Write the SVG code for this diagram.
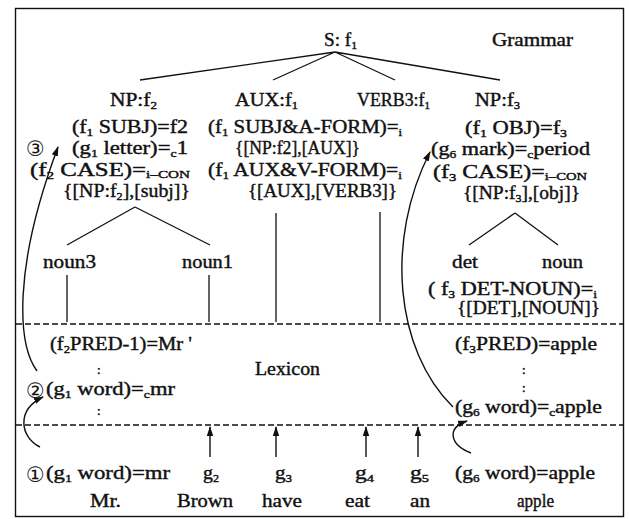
<svg xmlns="http://www.w3.org/2000/svg" width="629" height="519" viewBox="0 0 629 519">
<style>
.t{font-family:"Liberation Serif","Times New Roman",serif;font-size:18px;fill:#111;stroke:#111;stroke-width:0.4}
.k{font-family:"Liberation Serif","Times New Roman",serif;font-size:13px;fill:#111;stroke:#111;stroke-width:0.5}
.sb{font-size:11px}
.ss{font-size:11px}
.c{font-family:"DejaVu Sans","Noto Sans",sans-serif;font-size:21px;fill:#111}
.ln{stroke:#111;stroke-width:1.3;fill:none}
.ds{stroke:#111;stroke-width:1.3;stroke-dasharray:6 3;fill:none}
.ar{stroke:#111;stroke-width:1.4;fill:none;marker-end:url(#ah)}
</style>
<defs>
<marker id="ah" viewBox="0 0 10 10" refX="9" refY="5" markerWidth="10" markerHeight="10" orient="auto" markerUnits="userSpaceOnUse">
<path d="M0,1.8 L10,5 L0,8.2 z" fill="#111"/>
</marker>
</defs>
<rect x="15.5" y="8.5" width="608" height="508" fill="#fff" stroke="#111" stroke-width="1.4"/>

<g id="connectors">
<path class="ln" d="M335,52 L140,80 M335,52 L273,80 M335,52 L395,80 M335,52 L500,80"/>
<path class="ln" d="M135,207 L67,245 M135,207 L210,245"/>
<path class="ln" d="M515,213 L469,245 M515,213 L558,245"/>
<path class="ln" d="M67,275 L67,322 M209,275 L209,322 M276,213 L276,322 M380,212 L380,322"/>
<path class="ds" d="M16,324 L623,324"/>
<path class="ds" d="M16,425 L623,425"/>
<path class="ar" d="M210,457 L210,427"/>
<path class="ar" d="M276,457 L276,427"/>
<path class="ar" d="M366,457 L366,427"/>
<path class="ar" d="M418,457 L418,427"/>
<path class="ar" d="M37,371 C18,345 12,270 58,147"/>
<path class="ar" d="M40,447 C20,437 16,410 43,397"/>
<path class="ar" d="M453,407 C395,350 385,240 430,152"/>
<path class="ar" d="M471,453 C450,445 446,428 467,421"/>
</g>

<g id="grammar-label"><text class="t" x="492" y="46" textLength="81" lengthAdjust="spacingAndGlyphs">Grammar</text></g>
<g id="node-S"><text class="t" x="324" y="46" textLength="33" lengthAdjust="spacingAndGlyphs">S: f<tspan class="sb" dy="3">1</tspan></text></g>

<g id="node-NP-f2">
<text class="t" x="110" y="106" textLength="47" lengthAdjust="spacingAndGlyphs">NP:f<tspan class="sb" dy="3">2</tspan></text>
<text class="t" x="72" y="133" textLength="116" lengthAdjust="spacingAndGlyphs">(f<tspan class="sb" dy="3">1</tspan><tspan dy="-3"> SUBJ)=f2</tspan></text>
<text class="c" x="26" y="156">③</text>
<text class="t" x="72" y="154" textLength="116" lengthAdjust="spacingAndGlyphs">(g<tspan class="sb" dy="3">1</tspan><tspan dy="-3"> letter)=</tspan><tspan class="sb" dy="3">c</tspan><tspan dy="-3">1</tspan></text>
<text class="t" x="30" y="176" textLength="160" lengthAdjust="spacingAndGlyphs">(f<tspan class="sb" dy="3">2</tspan><tspan dy="-3"> CASE)=</tspan><tspan class="ss" dy="2">i–CON</tspan></text>
<text class="t" x="63" y="197" textLength="127" lengthAdjust="spacingAndGlyphs">{[NP:f<tspan class="sb" dy="3">2</tspan><tspan dy="-3">],[subj]}</tspan></text>
</g>

<g id="node-AUX">
<text class="t" x="235" y="106" textLength="63" lengthAdjust="spacingAndGlyphs">AUX:f<tspan class="sb" dy="3">1</tspan></text>
<text class="t" x="208" y="133" textLength="194" lengthAdjust="spacingAndGlyphs">(f<tspan class="sb" dy="3">1</tspan><tspan dy="-3"> SUBJ&amp;A-FORM)=</tspan><tspan class="sb" dy="3">i</tspan></text>
<text class="t" x="235" y="154" textLength="125" lengthAdjust="spacingAndGlyphs">{[NP:f2],[AUX]}</text>
<text class="t" x="208" y="176" textLength="194" lengthAdjust="spacingAndGlyphs">(f<tspan class="sb" dy="3">1</tspan><tspan dy="-3"> AUX&amp;V-FORM)=</tspan><tspan class="sb" dy="3">i</tspan></text>
<text class="t" x="248" y="197" textLength="149" lengthAdjust="spacingAndGlyphs">{[AUX],[VERB3]}</text>
</g>

<g id="node-VERB3">
<text class="t" x="357" y="106" textLength="73" lengthAdjust="spacingAndGlyphs">VERB3:f<tspan class="sb" dy="3">1</tspan></text>
</g>

<g id="node-NP-f3">
<text class="t" x="475" y="106" textLength="45" lengthAdjust="spacingAndGlyphs">NP:f<tspan class="sb" dy="3">3</tspan></text>
<text class="t" x="465" y="134" textLength="102" lengthAdjust="spacingAndGlyphs">(f<tspan class="sb" dy="3">1</tspan><tspan dy="-3"> OBJ)=f</tspan><tspan class="sb" dy="3">3</tspan></text>
<text class="t" x="431" y="155" textLength="159" lengthAdjust="spacingAndGlyphs">(g<tspan class="sb" dy="3">6</tspan><tspan dy="-3"> mark)=</tspan><tspan class="sb" dy="3">c</tspan><tspan dy="-3">period</tspan></text>
<text class="t" x="433" y="178" textLength="154" lengthAdjust="spacingAndGlyphs">(f<tspan class="sb" dy="3">3</tspan><tspan dy="-3"> CASE)=</tspan><tspan class="ss" dy="2">i–CON</tspan></text>
<text class="t" x="463" y="199" textLength="117" lengthAdjust="spacingAndGlyphs">{[NP:f<tspan class="sb" dy="3">3</tspan><tspan dy="-3">],[obj]}</tspan></text>
</g>

<g id="node-noun3"><text class="t" x="43" y="268" textLength="53" lengthAdjust="spacingAndGlyphs">noun3</text></g>
<g id="node-noun1"><text class="t" x="182" y="268" textLength="51" lengthAdjust="spacingAndGlyphs">noun1</text></g>
<g id="node-det"><text class="t" x="452" y="268" textLength="26" lengthAdjust="spacingAndGlyphs">det</text></g>
<g id="node-noun"><text class="t" x="542" y="268" textLength="41" lengthAdjust="spacingAndGlyphs">noun</text></g>
<g id="det-noun-eq">
<text class="t" x="428" y="295" textLength="169" lengthAdjust="spacingAndGlyphs">( f<tspan class="sb" dy="3">3</tspan><tspan dy="-3"> DET-NOUN)=</tspan><tspan class="sb" dy="3">i</tspan></text>
<text class="t" x="457" y="314" textLength="143" lengthAdjust="spacingAndGlyphs">{[DET],[NOUN]}</text>
</g>

<g id="lexicon">
<text class="t" x="255" y="375" textLength="65" lengthAdjust="spacingAndGlyphs">Lexicon</text>
<text class="t" x="50" y="350" textLength="142" lengthAdjust="spacingAndGlyphs">(f<tspan class="sb" dy="3">2</tspan><tspan dy="-3">PRED-1)=Mr '</tspan></text>
<text class="k" x="97" y="374">:</text>
<text class="c" x="26" y="398">②</text>
<text class="t" x="46" y="395" textLength="129" lengthAdjust="spacingAndGlyphs">(g<tspan class="sb" dy="3">1</tspan><tspan dy="-3"> word)=</tspan><tspan class="sb" dy="3">c</tspan><tspan dy="-3">mr</tspan></text>
<text class="k" x="97" y="415">:</text>
<text class="t" x="455" y="350" textLength="142" lengthAdjust="spacingAndGlyphs">(f<tspan class="sb" dy="3">3</tspan><tspan dy="-3">PRED)=apple</tspan></text>
<text class="k" x="522" y="374">:</text>
<text class="k" x="522" y="392">:</text>
<text class="t" x="455" y="413" textLength="147" lengthAdjust="spacingAndGlyphs">(g<tspan class="sb" dy="3">6</tspan><tspan dy="-3"> word)=</tspan><tspan class="sb" dy="3">c</tspan><tspan dy="-3">apple</tspan></text>
</g>

<g id="input">
<text class="c" x="26" y="482">①</text>
<text class="t" x="46" y="479" textLength="124" lengthAdjust="spacingAndGlyphs">(g<tspan class="sb" dy="3">1</tspan><tspan dy="-3"> word)=mr</tspan></text>
<text class="t" x="203" y="479" textLength="16" lengthAdjust="spacingAndGlyphs">g<tspan class="sb" dy="3">2</tspan></text>
<text class="t" x="275" y="479" textLength="17" lengthAdjust="spacingAndGlyphs">g<tspan class="sb" dy="3">3</tspan></text>
<text class="t" x="355" y="479" textLength="19" lengthAdjust="spacingAndGlyphs">g<tspan class="sb" dy="3">4</tspan></text>
<text class="t" x="410" y="479" textLength="19" lengthAdjust="spacingAndGlyphs">g<tspan class="sb" dy="3">5</tspan></text>
<text class="t" x="455" y="479" textLength="140" lengthAdjust="spacingAndGlyphs">(g<tspan class="sb" dy="3">6</tspan><tspan dy="-3"> word)=apple</tspan></text>
</g>

<g id="words">
<text class="t" x="90" y="507" textLength="31" lengthAdjust="spacingAndGlyphs">Mr.</text>
<text class="t" x="177" y="507" textLength="56" lengthAdjust="spacingAndGlyphs">Brown</text>
<text class="t" x="262" y="507" textLength="40" lengthAdjust="spacingAndGlyphs">have</text>
<text class="t" x="345" y="507" textLength="25" lengthAdjust="spacingAndGlyphs">eat</text>
<text class="t" x="410" y="507" textLength="20" lengthAdjust="spacingAndGlyphs">an</text>
<text class="t" x="517" y="507" textLength="37" lengthAdjust="spacingAndGlyphs">apple</text>
</g>
</svg>
